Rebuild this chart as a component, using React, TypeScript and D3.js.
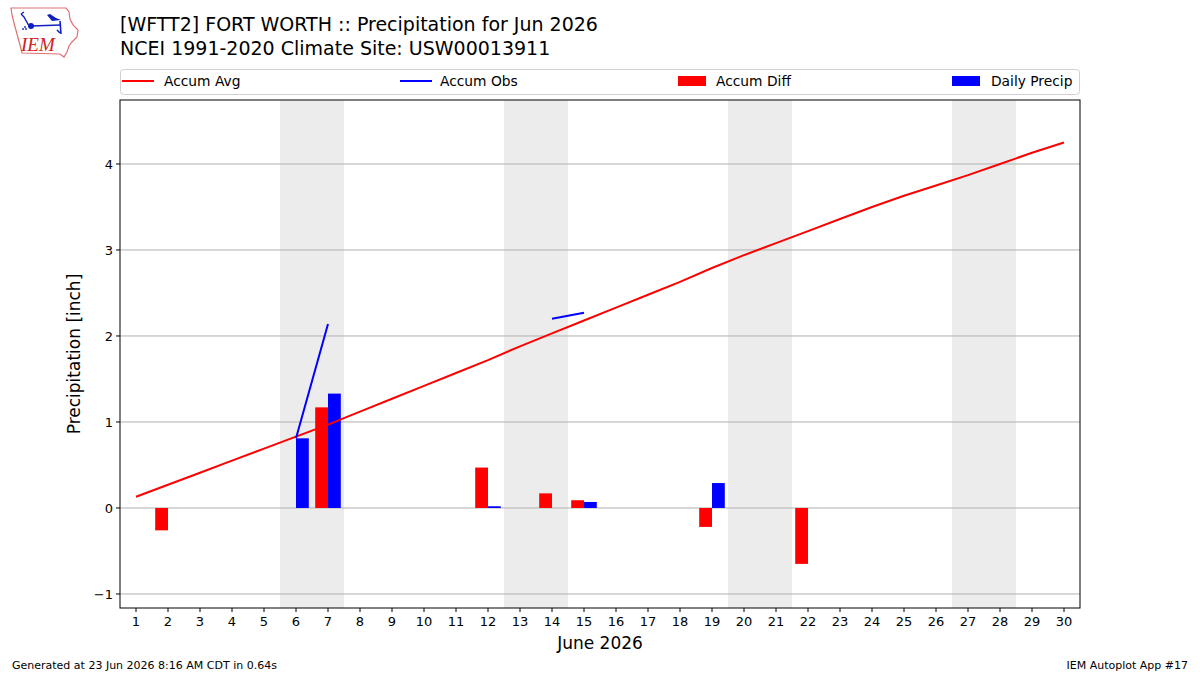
import React from "react";
import * as d3 from "d3";

const days = d3.range(1, 31);
const accumAvg = [0.13, 0.27, 0.41, 0.55, 0.69, 0.83, 0.97, 1.12, 1.27, 1.42, 1.57, 1.72, 1.88, 2.03, 2.18, 2.33, 2.48, 2.63, 2.79, 2.94, 3.08, 3.22, 3.36, 3.50, 3.63, 3.75, 3.87, 4.00, 4.13, 4.25];
// Observed accumulation; null where the series has gaps
const accumObs: (number | null)[] = [null, null, null, null, null, 0.81, 2.14, null, null, null, null, null, null, 2.20, 2.27, null, null, null, null, null, null, null, null, null, null, null, null, null, null, null];
const diffDays = [2, 7, 12, 14, 15, 19, 22];
const diffVals = [-0.26, 1.17, 0.47, 0.17, 0.09, -0.22, -0.65];
const precipDays = [6, 7, 12, 15, 19];
const precipVals = [0.81, 1.33, 0.02, 0.07, 0.29];
const weekendSpans = [[6, 7], [13, 14], [20, 21], [27, 28]];
const yTicks = [-1, 0, 1, 2, 3, 4];

const FONT = "DejaVu Sans, sans-serif";

export default function App() {
  const left = 120, right = 1080, top = 100, bottom = 608;
  const x = d3.scaleLinear().domain([0.5, 30.5]).range([left, right]);
  const y = d3.scaleLinear().domain([-1.163, 4.744]).range([bottom, top]);
  const barW = x(0.4) - x(0);

  const avgLine = d3.line<number>().x((_, i) => x(days[i])).y((v) => y(v))(accumAvg) || "";
  const obsLine = d3
    .line<number | null>()
    .defined((v) => v !== null)
    .x((_, i) => x(days[i]))
    .y((v) => y(v as number))(accumObs) || "";

  return (
    <svg width={1200} height={675} style={{ position: "absolute", left: 0, top: 0, background: "#fff" }} fontFamily={FONT}>
      <rect x={0} y={0} width={1200} height={675} fill="#fff" />
      {/* logo: state outline with weather vane */}
      <g>
        <path d="M11,8 L66,8 L69,12 L70,19 L73,25 L78,30 L77,37 L72,42 L69,46 L67,52 L64,57 L60,54 L22,53 L20,45 L17,34 L14,23 L12,15 Z" fill="#fff" stroke="#e07070" strokeWidth={1.2} />
        <path d="M21,14 L24,12 M21,14 L24,17 L29,26" stroke="#1020c0" strokeWidth={1.4} fill="none" />
        <circle cx={31} cy={26} r={3} fill="#1020c0" />
        <line x1={31} y1={26} x2={61} y2={25} stroke="#1020c0" strokeWidth={1.4} />
        <path d="M47,15 L50,14 L56,18 L61,20 L52,21 Z" fill="#1020c0" />
        <path d="M60,21 L61,34 M57,30 L60,33" stroke="#1020c0" strokeWidth={1.6} fill="none" />
        <circle cx={23} cy={29} r={0.9} fill="#1020c0" />
        <circle cx={25} cy={27} r={0.9} fill="#1020c0" />
        <circle cx={26} cy={29} r={0.9} fill="#1020c0" />
        <text x={21} y={51} fontSize={19} fontStyle="italic" fontFamily="Liberation Serif, serif" fill="#d02020">IEM</text>
      </g>
      {/* titles */}
      <text x={120} y={31} fontSize={19}>[WFTT2] FORT WORTH :: Precipitation for Jun 2026</text>
      <text x={120} y={55} fontSize={19}>NCEI 1991-2020 Climate Site: USW00013911</text>

      {/* legend */}
      <rect x={120.5} y={69.5} width={959} height={25} rx={3} fill="#fff" stroke="#d0d0d0" />
      <line x1={122} x2={154} y1={81} y2={81} stroke="red" strokeWidth={2} />
      <text x={164} y={86} fontSize={13.8}>Accum Avg</text>
      <line x1={400} x2={432} y1={81} y2={81} stroke="blue" strokeWidth={2} />
      <text x={440} y={86} fontSize={13.8}>Accum Obs</text>
      <rect x={678} y={76} width={28} height={10} fill="red" />
      <text x={716} y={86} fontSize={13.8}>Accum Diff</text>
      <rect x={952} y={76} width={28} height={10} fill="blue" />
      <text x={991} y={86} fontSize={13.8}>Daily Precip</text>

      {/* weekend shading */}
      {weekendSpans.map(([a, b], i) => (
        <rect key={i} x={x(a - 0.5)} y={top} width={x(b + 0.5) - x(a - 0.5)} height={bottom - top} fill="#ececec" />
      ))}
      {/* horizontal grid */}
      {yTicks.map((t) => (
        <line key={t} x1={left} x2={right} y1={y(t)} y2={y(t)} stroke="#b0b0b0" strokeWidth={1} />
      ))}
      {/* bars */}
      {diffDays.map((d, i) => (
        <rect key={"d" + d} x={x(d - 0.4)} width={barW} y={y(Math.max(0, diffVals[i]))} height={Math.abs(y(diffVals[i]) - y(0))} fill="red" />
      ))}
      {precipDays.map((d, i) => (
        <rect key={"p" + d} x={x(d)} width={barW} y={y(Math.max(0, precipVals[i]))} height={Math.abs(y(precipVals[i]) - y(0))} fill="blue" />
      ))}
      {/* lines */}
      <path d={avgLine} fill="none" stroke="red" strokeWidth={2} />
      <path d={obsLine} fill="none" stroke="blue" strokeWidth={2} />

      {/* frame */}
      <rect x={left} y={top} width={right - left} height={bottom - top} fill="none" stroke="#000" strokeWidth={1} />
      {/* y axis */}
      {yTicks.map((t) => (
        <g key={t}>
          <line x1={left - 4} x2={left} y1={y(t)} y2={y(t)} stroke="#000" />
          <text x={left - 7} y={y(t)} dy="0.35em" textAnchor="end" fontSize={13}>{t === -1 ? "\u22121" : t}</text>
        </g>
      ))}
      {/* x axis */}
      {days.map((d) => (
        <g key={d}>
          <line x1={x(d)} x2={x(d)} y1={bottom} y2={bottom + 4} stroke="#000" />
          <text x={x(d)} y={bottom + 18} textAnchor="middle" fontSize={13}>{d}</text>
        </g>
      ))}
      <text x={(left + right) / 2} y={649} textAnchor="middle" fontSize={17}>June 2026</text>
      <text transform={`translate(80,${(top + bottom) / 2}) rotate(-90)`} textAnchor="middle" fontSize={17}>Precipitation [inch]</text>

      {/* footer */}
      <text x={12} y={669} fontSize={11}>Generated at 23 Jun 2026 8:16 AM CDT in 0.64s</text>
      <text x={1188} y={669} fontSize={11} textAnchor="end">IEM Autoplot App #17</text>
    </svg>
  );
}
